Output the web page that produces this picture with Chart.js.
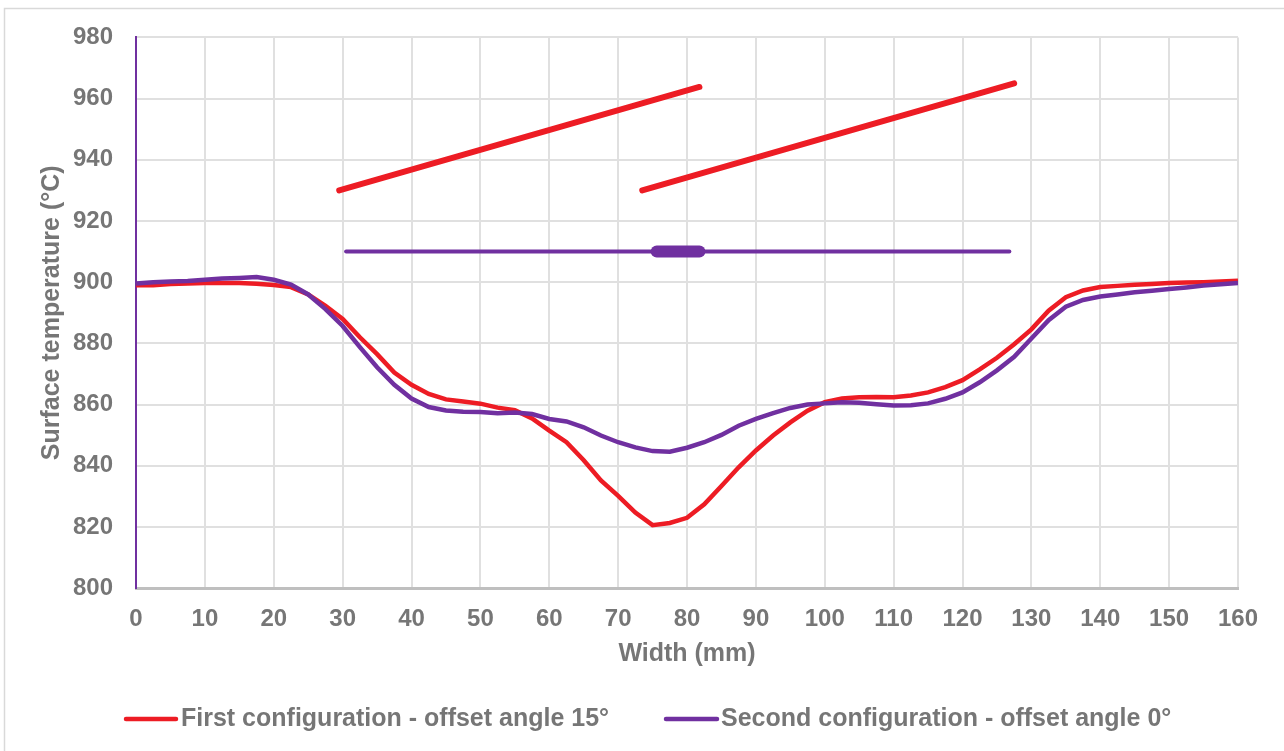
<!DOCTYPE html>
<html>
<head>
<meta charset="utf-8">
<script src="https://cdn.jsdelivr.net/npm/chart.js@4.4.1/dist/chart.umd.min.js"></script>
<style>
  html, body { margin: 0; padding: 0; background: #ffffff; }
  #wrap { position: relative; width: 1284px; height: 751px; }
</style>
</head>
<body>
<div id="wrap"><canvas id="grafico"></canvas></div>
<script>
// Posiciones a lo ancho (mm)
const anchoMm = [0, 2.5, 5, 7.5, 10, 12.5, 15, 17.5, 20, 22.5, 25, 27.5, 30, 32.5, 35, 37.5,
  40, 42.5, 45, 47.5, 50, 52.5, 55, 57.5, 60, 62.5, 65, 67.5, 70, 72.5, 75, 77.5,
  80, 82.5, 85, 87.5, 90, 92.5, 95, 97.5, 100, 102.5, 105, 107.5, 110, 112.5, 115, 117.5,
  120, 122.5, 125, 127.5, 130, 132.5, 135, 137.5, 140, 142.5, 145, 147.5, 150, 152.5, 155, 157.5, 160];

// Primera configuracion - angulo 15°
const tempPrimera = [899, 899, 899.4, 899.6, 899.7, 899.7, 899.7, 899.5, 899.1, 898.4, 896, 892.3, 888, 882, 876.5, 870.5,
  866.5, 863.5, 861.7, 861, 860.3, 859, 858.2, 855.5, 851.5, 847.7, 841.8, 835.2, 830.2, 824.7, 820.6, 821.3,
  823, 827.4, 833.4, 839.5, 845, 849.9, 854.2, 858, 860.8, 862, 862.4, 862.5, 862.4, 863, 864, 865.7,
  868, 871.5, 875.3, 879.7, 884.6, 890.7, 895.1, 897.3, 898.4, 898.8, 899.2, 899.4, 899.7, 899.9, 900, 900.2, 900.5];

// Segunda configuracion - angulo 0°
const tempSegunda = [899.6, 900, 900.2, 900.4, 900.8, 901.2, 901.4, 901.7, 900.8, 899.2, 896, 891.2, 885.7, 878.8, 872.2, 866.5,
  862, 859.2, 858.1, 857.7, 857.6, 857.2, 857.4, 856.9, 855.3, 854.5, 852.6, 849.9, 847.7, 846, 844.8, 844.6,
  845.9, 847.7, 850.1, 853.1, 855.3, 857.2, 858.9, 860, 860.4, 860.8, 860.6, 860.1, 859.7, 859.8, 860.4, 861.9,
  864, 867.3, 871.2, 875.6, 881.6, 887.6, 892, 894.2, 895.3, 896, 896.7, 897.2, 897.8, 898.3, 898.9, 899.3, 899.7];

// Esquema de las configuraciones (trazos sobre la grafica)
const inclinadaAX = [29.5, 81.8];
const inclinadaAY = [930, 963.8];
const inclinadaBX = [73.5, 127.5];
const inclinadaBY = [930, 965];
const rectaX = [30.5, 126.8];
const rectaY = [910, 910];
const tramoX = [75.6, 81.8];
const tramoY = [910, 910];

const ticksX = [0, 10, 20, 30, 40, 50, 60, 70, 80, 90, 100, 110, 120, 130, 140, 150, 160];
const ticksY = [800, 820, 840, 860, 880, 900, 920, 940, 960, 980];

const rojo = "#ED1C24";
const morado = "#7030A0";
const gris = "#767676";
const fuente = "'Liberation Sans', Arial, sans-serif";

const puntos = (xs, ys) => xs.map((x, i) => ({ x: x, y: ys[i] }));

// Marco exterior gris claro
const marco = {
  id: "marco",
  beforeDraw(chart) {
    const ctx = chart.ctx;
    ctx.save();
    ctx.strokeStyle = "#D9D9D9";
    ctx.lineWidth = 1.5;
    ctx.strokeRect(4.5, 8.5, 1400, 800);
    ctx.restore();
  }
};

// Leyenda inferior (solo las dos series medidas)
const leyenda = {
  id: "leyenda",
  afterDraw(chart) {
    const ctx = chart.ctx;
    const items = [
      { ds: chart.data.datasets[0], x1: 126, x2: 176, tx: 181 },
      { ds: chart.data.datasets[1], x1: 666, x2: 717, tx: 721 }
    ];
    const y = 719;
    ctx.save();
    items.forEach(it => {
      ctx.strokeStyle = it.ds.borderColor;
      ctx.lineWidth = 4.5;
      ctx.lineCap = "round";
      ctx.beginPath();
      ctx.moveTo(it.x1, y);
      ctx.lineTo(it.x2, y);
      ctx.stroke();
      ctx.fillStyle = gris;
      ctx.font = "bold 25px " + fuente;
      ctx.textBaseline = "middle";
      ctx.textAlign = "left";
      ctx.fillText(it.ds.label, it.tx, y);
    });
    ctx.restore();
  }
};

new Chart(document.getElementById("grafico"), {
  type: "scatter",
  data: {
    datasets: [
      {
        label: "First configuration - offset angle 15°",
        data: puntos(anchoMm, tempPrimera),
        showLine: true, borderColor: rojo, backgroundColor: rojo,
        borderWidth: 4.5, pointRadius: 0, order: 2
      },
      {
        label: "Second configuration - offset angle 0°",
        data: puntos(anchoMm, tempSegunda),
        showLine: true, borderColor: morado, backgroundColor: morado,
        borderWidth: 4.5, pointRadius: 0, order: 1
      },
      {
        label: "a", data: puntos(inclinadaAX, inclinadaAY),
        showLine: true, borderColor: rojo, borderWidth: 6, borderCapStyle: "round", pointRadius: 0
      },
      {
        label: "b", data: puntos(inclinadaBX, inclinadaBY),
        showLine: true, borderColor: rojo, borderWidth: 6, borderCapStyle: "round", pointRadius: 0
      },
      {
        label: "c", data: puntos(rectaX, rectaY),
        showLine: true, borderColor: morado, borderWidth: 4, borderCapStyle: "round", pointRadius: 0
      },
      {
        label: "d", data: puntos(tramoX, tramoY),
        showLine: true, borderColor: morado, borderWidth: 12, borderCapStyle: "round", pointRadius: 0
      }
    ]
  },
  options: {
    responsive: true,
    maintainAspectRatio: false,
    animation: false,
    layout: { padding: { left: 20, right: 46, top: 24, bottom: 82 } },
    plugins: {
      tooltip: { enabled: false },
      legend: { display: false }
    },
    scales: {
      x: {
        type: "linear",
        min: 0, max: 160,
        afterBuildTicks: (eje) => { eje.ticks = ticksX.map(v => ({ value: v })); },
        border: { color: "#BFBFBF", width: 3 },
        grid: { color: "#E0E0E0", lineWidth: 2, drawTicks: false },
        ticks: { color: gris, padding: 17, font: { family: fuente, size: 24, weight: "bold" } },
        title: {
          display: true, text: "Width (mm)", color: gris,
          padding: { top: -12, bottom: 0 },
          font: { family: fuente, size: 25, weight: "bold" }
        }
      },
      y: {
        min: 800, max: 980,
        afterBuildTicks: (eje) => { eje.ticks = ticksY.map(v => ({ value: v })); },
        border: { color: morado, width: 2 },
        grid: { color: "#E0E0E0", lineWidth: 2, drawTicks: false },
        ticks: { color: gris, padding: 23, font: { family: fuente, size: 24, weight: "bold" } },
        title: {
          display: true, text: "Surface temperature (°C)", color: gris,
          padding: { top: 17, bottom: -17 },
          font: { family: fuente, size: 25, weight: "bold" }
        }
      }
    }
  },
  plugins: [marco, leyenda]
});
</script>
</body>
</html>
